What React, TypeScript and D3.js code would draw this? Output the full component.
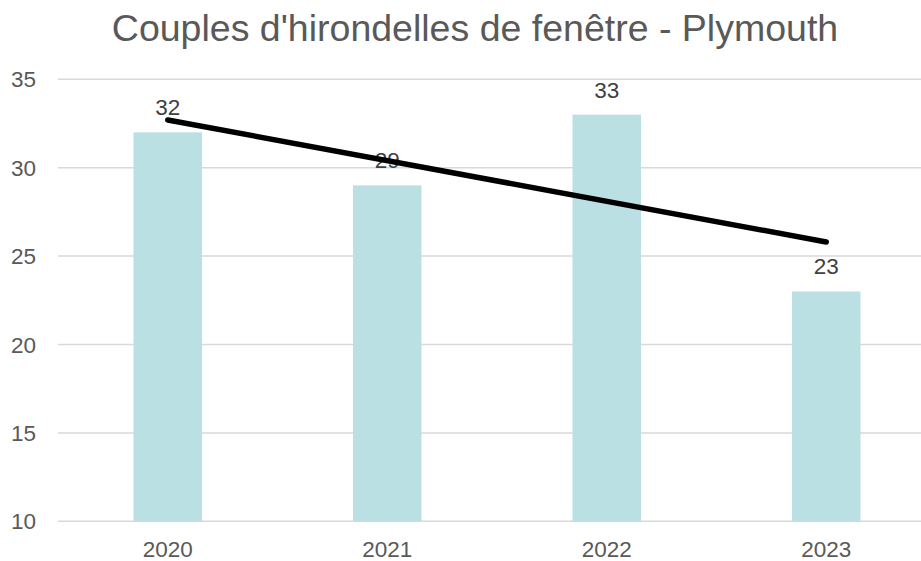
import React from "react";
import * as d3 from "d3";

const categories = ["2020", "2021", "2022", "2023"];
const values = [32, 29, 33, 23];
const trendEnds = [32.7, 25.8];
const yTicks = [10, 15, 20, 25, 30, 35];
const title = "Couples d'hirondelles de fenêtre - Plymouth";

const W = 921;
const H = 561;
const plotLeft = 58;
const plotRight = 936;
const plotTop = 79.3;
const plotBottom = 521.3;
const font = "'Liberation Sans', Arial, sans-serif";
const textColor = "#595959";

export default function App() {
  const x = d3
    .scaleBand<string>()
    .domain(categories)
    .range([plotLeft, plotRight])
    .paddingInner(0.688)
    .paddingOuter(0.344);
  const y = d3.scaleLinear().domain([10, 35]).range([plotBottom, plotTop]);
  const cx = (c: string) => (x(c) as number) + x.bandwidth() / 2;
  const line = d3
    .line<number>()
    .x((_, i) => cx(categories[i === 0 ? 0 : categories.length - 1]))
    .y((d) => y(d));

  return (
    <svg
      width={W}
      height={H}
      style={{ position: "absolute", left: 0, top: 0, background: "#fff" }}
    >
      <text
        x={475}
        y={41}
        textAnchor="middle"
        fontFamily={font}
        fontSize={37.5}
        fill={textColor}
      >
        {title}
      </text>
      {yTicks.map((t) => (
        <g key={t}>
          <line
            x1={plotLeft}
            x2={W}
            y1={y(t)}
            y2={y(t)}
            stroke="#d9d9d9"
            strokeWidth={1.5}
          />
          <text
            x={36}
            y={y(t) + 8}
            textAnchor="end"
            fontFamily={font}
            fontSize={22.5}
            fill={textColor}
          >
            {t}
          </text>
        </g>
      ))}
      {categories.map((c, i) => (
        <g key={c}>
          <rect
            x={x(c)}
            y={y(values[i])}
            width={x.bandwidth()}
            height={y(10) - y(values[i])}
            fill="#bbe0e3"
          />
          <text
            x={cx(c)}
            y={plotBottom + 36}
            textAnchor="middle"
            fontFamily={font}
            fontSize={22.5}
            fill={textColor}
          >
            {c}
          </text>
        </g>
      ))}
      {categories.map((c, i) => (
        <text
          key={"l" + c}
          x={cx(c)}
          y={y(values[i]) - 17}
          textAnchor="middle"
          fontFamily={font}
          fontSize={22.5}
          fill="#404040"
        >
          {values[i]}
        </text>
      ))}
      <path
        d={line(trendEnds) || ""}
        fill="none"
        stroke="#000"
        strokeWidth={5.5}
        strokeLinecap="round"
      />
    </svg>
  );
}
